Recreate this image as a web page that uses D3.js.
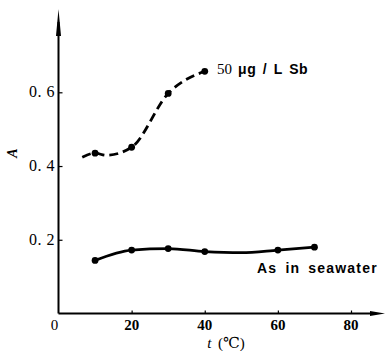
<!DOCTYPE html>
<html><head><meta charset="utf-8">
<script src="https://cdn.jsdelivr.net/npm/d3@7"></script>
<style>body{margin:0;background:#fff}svg{display:block}</style>
</head><body>
<svg id="c" width="386" height="351"></svg>
<script>
const xTicks = [0, 20, 40, 60, 80];
const yTicks = [0.2, 0.4, 0.6];
const yTickLabels = ["0. 2", "0. 4", "0. 6"];
// 50 ug/L Sb (dashed) curve and markers
const sbCurveT = [6.5, 10, 13, 20, 30, 40];
const sbCurveA = [0.424, 0.435, 0.429, 0.451, 0.597, 0.657];
const sbPointT = [10, 20, 30, 40];
const sbPointA = [0.435, 0.451, 0.597, 0.657];
// As in seawater (solid)
const asCurveT = [10, 20, 30, 40, 50, 60, 70];
const asCurveA = [0.144, 0.172, 0.176, 0.168, 0.165, 0.172, 0.180];
const asPointT = [10, 20, 30, 40, 60, 70];
const asPointA = [0.144, 0.172, 0.176, 0.168, 0.172, 0.180];

const svg = d3.select("#c");
const x = d3.scaleLinear().domain([0, 80]).range([58.5, 351]);
const y = d3.scaleLinear().domain([0, 0.6]).range([313.5, 92.3]);
const serif = "Liberation Serif, DejaVu Serif, serif";
const sans = "Liberation Sans, Arial, sans-serif";

// axes lines with arrows
svg.append("line").attr("x1", x(0)).attr("x2", x(0)).attr("y1", 313.5).attr("y2", 22)
  .attr("stroke", "#000").attr("stroke-width", 2);
svg.append("path").attr("d", `M${x(0)-2.5},36 L${x(0)},9 L${x(0)+2.5},36 Z`).attr("fill", "#000");
svg.append("line").attr("x1", x(0)).attr("x2", 372).attr("y1", 313.5).attr("y2", 313.5)
  .attr("stroke", "#000").attr("stroke-width", 2);
svg.append("path").attr("d", `M370,311 L385,313.5 L370,316 Z`).attr("fill", "#000");

// ticks (inward)
const xa = d3.axisTop(x).tickValues(xTicks.filter(d => d > 0)).tickSize(3).tickFormat("");
const gx = svg.append("g").attr("transform", "translate(0,313.5)").call(xa);
gx.select(".domain").remove();
gx.selectAll("line").attr("stroke", "#000").attr("stroke-width", 1.2);
const ya = d3.axisRight(y).tickValues(yTicks).tickSize(4).tickFormat("");
const gy = svg.append("g").attr("transform", `translate(${x(0)},0)`).call(ya);
gy.select(".domain").remove();
gy.selectAll("line").attr("stroke", "#000").attr("stroke-width", 1.2);

// tick labels
svg.selectAll(".xl").data(xTicks).enter().append("text")
  .attr("x", d => d === 0 ? x(d) - 4 : x(d)).attr("y", 330)
  .attr("text-anchor", "middle").attr("font-family", serif)
  .attr("font-weight", d => d === 0 ? "normal" : "bold").attr("font-size", 15)
  .text(d => d);
svg.selectAll(".yl").data(yTicks).enter().append("text")
  .attr("x", 55).attr("y", d => y(d) + 5)
  .attr("text-anchor", "end").attr("font-family", serif).attr("font-size", 16)
  .attr("letter-spacing", 0.5)
  .text((d, i) => yTickLabels[i]);

// axis titles
svg.append("text").attr("x", 226).attr("y", 348).attr("text-anchor", "middle")
  .attr("font-family", serif).attr("font-size", 15).attr("word-spacing", 3)
  .html('<tspan font-style="italic">t</tspan> (℃)');
svg.append("text").attr("transform", "translate(17,153) rotate(-90)").attr("text-anchor", "middle")
  .attr("font-family", serif).attr("font-style", "italic").attr("font-weight", "bold").attr("font-size", 14).text("A");

// lines
const line = d3.line().x(d => x(d[0])).y(d => y(d[1])).curve(d3.curveMonotoneX);
svg.append("path").datum(sbCurveT.map((t, i) => [t, sbCurveA[i]])).attr("d", line)
  .attr("fill", "none").attr("stroke", "#000").attr("stroke-width", 2.8)
  .attr("stroke-dasharray", "9,5");
svg.append("path").datum(asCurveT.map((t, i) => [t, asCurveA[i]])).attr("d", line)
  .attr("fill", "none").attr("stroke", "#000").attr("stroke-width", 2.8);

svg.selectAll(".sbp").data(sbPointT).enter().append("circle")
  .attr("cx", d => x(d)).attr("cy", (d, i) => y(sbPointA[i])).attr("r", 3.4).attr("fill", "#000");
svg.selectAll(".asp").data(asPointT).enter().append("circle")
  .attr("cx", d => x(d)).attr("cy", (d, i) => y(asPointA[i])).attr("r", 3.4).attr("fill", "#000");

// series labels
const sbLabel = svg.append("text").attr("x", 217).attr("y", 74).attr("font-size", 15);
sbLabel.append("tspan").attr("font-family", serif).text("50");
sbLabel.append("tspan").attr("dx", 6).attr("font-family", sans).attr("font-weight", "bold")
  .attr("font-size", 14).attr("letter-spacing", 0.6).attr("word-spacing", 2).text("μg / L Sb");
svg.append("text").attr("x", 257).attr("y", 273).attr("font-size", 14)
  .attr("font-family", sans).attr("font-weight", "bold").attr("letter-spacing", 1.2)
  .attr("word-spacing", 3).text("As in seawater");
</script>
</body></html>
